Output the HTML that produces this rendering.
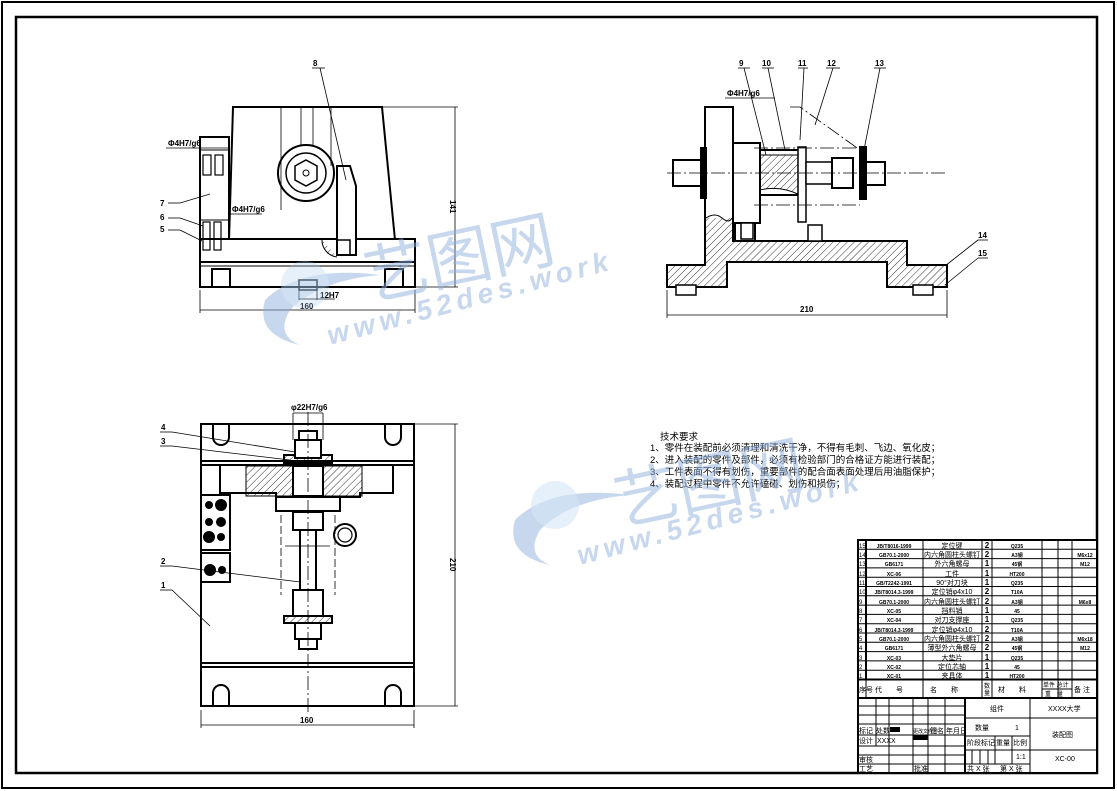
<!DOCTYPE html>
<html><head><meta charset="utf-8"><style>
html,body{margin:0;padding:0;background:#fff}
svg{display:block}
text{font-family:"Liberation Sans","Noto Sans CJK SC",sans-serif}
</style></head><body>
<svg width="1117" height="791" viewBox="0 0 1117 791" xmlns="http://www.w3.org/2000/svg">
<defs>
<pattern id="h" width="5" height="5" patternUnits="userSpaceOnUse" patternTransform="rotate(45)">
<line x1="0" y1="0" x2="0" y2="5" stroke="#000" stroke-width="0.8"/></pattern>
</defs>
<rect x="2" y="2" width="1112" height="786" fill="none" stroke="#000" stroke-width="2"/>
<rect x="16" y="17" width="1081" height="756" fill="none" stroke="#000" stroke-width="2.5"/>

<!-- FRONT VIEW -->
<g stroke="#000" fill="none" stroke-width="2">
<polygon points="233,107 382,107 395,240 229,240" fill="#fff"/>
<rect x="200" y="137" width="29" height="103" fill="#fff"/>
<rect x="200" y="239" width="215" height="48" fill="#fff"/>
<line x1="200" y1="262" x2="415" y2="262"/>
<line x1="200" y1="266" x2="415" y2="266" stroke-width="1"/>
<rect x="212" y="269" width="18" height="18"/><rect x="385" y="269" width="18" height="18"/>
<circle cx="306" cy="173" r="28"/>
<circle cx="306" cy="173" r="20" stroke-width="1.5"/>
<polygon points="306,160 317,166 317,180 306,186 295,180 295,166" stroke-width="1.5"/>
<circle cx="306" cy="173" r="3" stroke-width="1"/>
<polygon points="337,166 350,166 356,186 356,255 337,255" fill="#fff"/>
<rect x="337" y="240" width="13" height="15" stroke-width="1.5"/>
<path d="M322,240 A17,17 0 0 0 337,257" fill="url(#h)" stroke-width="1"/>
<path d="M200,150 L229,150 M200,220 L229,220" stroke-width="1"/>
<rect x="203" y="155" width="8" height="20" stroke-width="1.2"/><rect x="215" y="155" width="8" height="20" stroke-width="1.2"/>
<rect x="203" y="222" width="7" height="28" stroke-width="1.2"/><rect x="214" y="222" width="7" height="28" stroke-width="1.2"/>
<rect x="299" y="280" width="18" height="10" stroke-width="1.5"/>
</g>
<g stroke="#000" stroke-width="0.8" fill="none">
<line x1="281" y1="107" x2="281" y2="210"/><line x1="301" y1="107" x2="301" y2="145"/><line x1="313" y1="107" x2="313" y2="145"/><line x1="331" y1="107" x2="331" y2="166"/>
<line x1="382" y1="107" x2="458" y2="107"/><line x1="415" y1="287" x2="458" y2="287"/>
<line x1="455" y1="107" x2="455" y2="287"/>
<line x1="200" y1="290" x2="200" y2="313"/><line x1="415" y1="290" x2="415" y2="313"/>
<line x1="200" y1="310" x2="415" y2="310"/>
<line x1="312" y1="68" x2="325" y2="68"/><line x1="320" y1="68" x2="346" y2="180"/>
<line x1="168" y1="203" x2="180" y2="203"/><line x1="180" y1="203" x2="210" y2="194"/>
<line x1="168" y1="218" x2="180" y2="218"/><line x1="180" y1="218" x2="203" y2="226"/>
<line x1="168" y1="230" x2="180" y2="230"/><line x1="180" y1="230" x2="202" y2="241"/>
<line x1="166" y1="148" x2="228" y2="148"/><line x1="230" y1="214" x2="262" y2="214"/>
<line x1="299" y1="290" x2="299" y2="300"/><line x1="317" y1="290" x2="317" y2="300"/><line x1="299" y1="299" x2="335" y2="299"/>
</g>
<g font-size="8" font-weight="bold" fill="#000">
<text x="313" y="66">8</text><text x="160" y="206">7</text><text x="160" y="220">6</text><text x="160" y="232">5</text>
<text x="168" y="146">Φ4H7/g6</text><text x="232" y="212">Φ4H7/g6</text>
<text x="320" y="298">12H7</text><text x="300" y="309">160</text>
<text x="450" y="200" transform="rotate(90 450 200)">141</text>
</g>

<!-- SIDE VIEW -->
<g stroke="#000" stroke-width="2">
<polygon points="667,265 705,265 705,107 733,107 733,241 907,241 907,265 947,265 947,287 887,287 887,262 727,262 727,287 667,287" fill="url(#h)"/>
<rect x="706" y="108" width="26" height="110" fill="#fff" stroke="none"/>
<path d="M706,218 Q715,212 722,218 T732,218" fill="none" stroke-width="1"/>
<rect x="733" y="143" width="27" height="80" fill="#fff"/>
<rect x="735" y="223" width="20" height="18" fill="#fff"/>
<rect x="760" y="150" width="40" height="45" fill="#fff"/>
<path d="M760,155 L800,155 L800,195 Q780,185 760,190Z" fill="url(#h)" stroke-width="1"/>
<rect x="798" y="147" width="8" height="75" fill="#fff" stroke-width="1.5"/>
<rect x="806" y="162" width="26" height="22" fill="#fff" stroke-width="1.5"/>
<rect x="832" y="158" width="21" height="30" fill="#fff"/>
<rect x="860" y="147" width="6" height="52" fill="#000"/>
<rect x="866" y="162" width="19" height="23" fill="#fff"/>
<rect x="701" y="148" width="5" height="50" fill="#000"/>
<rect x="673" y="160" width="28" height="26" fill="#fff"/>
<rect x="808" y="225" width="14" height="16" fill="#fff" stroke-width="1.5"/>
<rect x="741" y="223" width="12" height="16" fill="#fff" stroke-width="1.5"/>
<rect x="676" y="285" width="20" height="10" fill="#fff" stroke-width="1.5"/>
<rect x="913" y="285" width="20" height="10" fill="#fff" stroke-width="1.5"/>
</g>
<g stroke="#000" stroke-width="0.8" fill="none">
<line x1="667" y1="173" x2="945" y2="173" stroke-dasharray="14,3,2,3"/>
<line x1="754" y1="148" x2="860" y2="148" stroke-dasharray="14,3,2,3"/>
<line x1="754" y1="205" x2="860" y2="205" stroke-dasharray="14,3,2,3"/>
<polyline points="790,107 800,107 860,150" stroke-dasharray="14,3,2,3"/>
<line x1="667" y1="290" x2="667" y2="318"/><line x1="947" y1="290" x2="947" y2="318"/>
<line x1="667" y1="315" x2="947" y2="315"/>
<line x1="738" y1="68" x2="750" y2="68"/><line x1="744" y1="68" x2="766" y2="155"/>
<line x1="762" y1="68" x2="774" y2="68"/><line x1="768" y1="68" x2="785" y2="150"/>
<line x1="798" y1="68" x2="808" y2="68"/><line x1="804" y1="68" x2="800" y2="140"/>
<line x1="826" y1="68" x2="840" y2="68"/><line x1="833" y1="68" x2="815" y2="125"/>
<line x1="874" y1="68" x2="886" y2="68"/><line x1="880" y1="68" x2="864" y2="150"/>
<line x1="725" y1="98" x2="775" y2="98"/>
<line x1="978" y1="240" x2="988" y2="240"/><line x1="978" y1="240" x2="945" y2="266"/>
<line x1="978" y1="258" x2="988" y2="258"/><line x1="978" y1="258" x2="945" y2="285"/>
</g>
<g font-size="8" font-weight="bold" fill="#000">
<text x="739" y="66">9</text><text x="762" y="66">10</text><text x="798" y="66">11</text><text x="827" y="66">12</text><text x="875" y="66">13</text>
<text x="727" y="96">Φ4H7/g6</text><text x="978" y="238">14</text><text x="978" y="256">15</text>
<text x="800" y="312">210</text>
</g>

<!-- TOP VIEW -->
<g stroke="#000" stroke-width="2" fill="none">
<rect x="201" y="424" width="213" height="282" fill="#fff"/>
<line x1="201" y1="461" x2="414" y2="461"/><line x1="201" y1="465" x2="414" y2="465"/>
<line x1="201" y1="663" x2="414" y2="663"/><line x1="201" y1="667" x2="414" y2="667"/>
<path d="M213,424 L213,437 A8,8 0 0 0 229,437 L229,424"/>
<path d="M385,424 L385,437 A8,8 0 0 0 401,437 L401,424"/>
<path d="M213,706 L213,693 A8,8 0 0 1 229,693 L229,706"/>
<path d="M385,706 L385,693 A8,8 0 0 1 401,693 L401,706"/>
<path d="M220,465 L220,493 L276,493 L276,497 L360,497 L360,493 L393,493 L393,465"/>
<rect x="246" y="466" width="116" height="30" fill="url(#h)" stroke-width="1"/>
<rect x="276" y="497" width="64" height="14" fill="#fff"/>
<rect x="293" y="466" width="30" height="30" fill="#fff"/>
<rect x="284" y="455" width="48" height="8" fill="url(#h)"/>
<rect x="295" y="440" width="26" height="18" fill="#fff"/>
<rect x="299" y="431" width="18" height="9" fill="#fff"/>
<rect x="293" y="512" width="30" height="18" fill="#fff"/>
<rect x="300" y="530" width="16" height="60" fill="#fff"/>
<rect x="293" y="590" width="30" height="26" fill="#fff"/>
<rect x="284" y="616" width="48" height="7" fill="url(#h)"/>
<rect x="295" y="623" width="26" height="16" fill="#fff"/>
<rect x="299" y="639" width="18" height="10" fill="#fff"/>
<rect x="201" y="495" width="29" height="55" fill="#fff"/>
<rect x="201" y="553" width="29" height="29" fill="#fff"/>
<circle cx="345" cy="535" r="11"/><circle cx="345" cy="535" r="7" stroke-width="1.2"/>
</g>
<g fill="#000">
<circle cx="209" cy="505" r="4"/><circle cx="221" cy="505" r="6"/>
<circle cx="209" cy="522" r="4"/><circle cx="221" cy="522" r="5"/><circle cx="209" cy="537" r="6"/><circle cx="221" cy="537" r="4"/>
<circle cx="210" cy="570" r="6"/><circle cx="222" cy="570" r="4"/>
</g>
<g stroke="#000" stroke-width="0.8" fill="none">
<line x1="308" y1="412" x2="308" y2="712" stroke-dasharray="14,3,2,3"/>
<line x1="281" y1="515" x2="281" y2="595" stroke-dasharray="8,3"/><line x1="335" y1="515" x2="335" y2="595" stroke-dasharray="8,3"/>
<line x1="285" y1="546" x2="330" y2="546"/>
<line x1="293" y1="413" x2="323" y2="413"/><line x1="293" y1="413" x2="293" y2="440"/><line x1="323" y1="413" x2="323" y2="440"/>
<line x1="414" y1="424" x2="458" y2="424"/><line x1="414" y1="706" x2="458" y2="706"/>
<line x1="455" y1="424" x2="455" y2="706"/>
<line x1="201" y1="710" x2="201" y2="728"/><line x1="414" y1="710" x2="414" y2="728"/>
<line x1="201" y1="725" x2="414" y2="725"/>
<line x1="160" y1="432" x2="172" y2="432"/><line x1="172" y1="432" x2="295" y2="452"/>
<line x1="160" y1="446" x2="172" y2="446"/><line x1="172" y1="446" x2="290" y2="460"/>
<line x1="160" y1="566" x2="172" y2="566"/><line x1="172" y1="566" x2="300" y2="582"/>
<line x1="160" y1="590" x2="172" y2="590"/><line x1="172" y1="590" x2="210" y2="626"/>
</g>
<g font-size="8" font-weight="bold" fill="#000">
<text x="291" y="410">φ22H7/g6</text>
<text x="161" y="430">4</text><text x="161" y="444">3</text><text x="161" y="564">2</text><text x="161" y="588">1</text>
<text x="300" y="723">160</text>
<text x="450" y="558" transform="rotate(90 450 558)">210</text>
</g>

<!-- TECH REQUIREMENTS -->
<g font-size="9.5" fill="#000">
<text x="660" y="440">技术要求</text>
<text x="650" y="451">1、零件在装配前必须清理和清洗干净，不得有毛刺、飞边、氧化皮；</text>
<text x="650" y="463">2、进入装配的零件及部件，必须有检验部门的合格证方能进行装配；</text>
<text x="650" y="475">3、工件表面不得有划伤，重要部件的配合面表面处理后用油脂保护；</text>
<text x="650" y="487">4、装配过程中零件不允许磕碰、划伤和损伤；</text>
</g>

<!-- TITLE BLOCK -->
<g stroke="#000" fill="none">
<rect x="858" y="540" width="239" height="233" fill="#fff" stroke-width="2"/>
<g stroke-width="1">
<line x1="858" y1="549.3" x2="1097" y2="549.3"/><line x1="858" y1="558.6" x2="1097" y2="558.6"/><line x1="858" y1="567.9" x2="1097" y2="567.9"/>
<line x1="858" y1="577.2" x2="1097" y2="577.2"/><line x1="858" y1="586.5" x2="1097" y2="586.5"/><line x1="858" y1="595.8" x2="1097" y2="595.8"/>
<line x1="858" y1="605.1" x2="1097" y2="605.1"/><line x1="858" y1="614.4" x2="1097" y2="614.4"/><line x1="858" y1="623.7" x2="1097" y2="623.7"/>
<line x1="858" y1="633" x2="1097" y2="633"/><line x1="858" y1="642.3" x2="1097" y2="642.3"/><line x1="858" y1="651.6" x2="1097" y2="651.6"/>
<line x1="858" y1="660.9" x2="1097" y2="660.9"/><line x1="858" y1="670.2" x2="1097" y2="670.2"/>
<line x1="866" y1="540" x2="866" y2="698"/><line x1="923" y1="540" x2="923" y2="698"/><line x1="982" y1="540" x2="982" y2="698"/>
<line x1="992" y1="540" x2="992" y2="698"/><line x1="1042" y1="540" x2="1042" y2="698"/><line x1="1058" y1="540" x2="1058" y2="698"/><line x1="1072" y1="540" x2="1072" y2="698"/>
<line x1="1042" y1="689" x2="1072" y2="689"/>
<line x1="858" y1="706" x2="965" y2="706"/><line x1="858" y1="715" x2="965" y2="715"/><line x1="858" y1="724" x2="965" y2="724"/><line x1="858" y1="735" x2="965" y2="735"/>
<line x1="858" y1="746" x2="965" y2="746"/><line x1="858" y1="755" x2="965" y2="755"/><line x1="858" y1="764" x2="965" y2="764"/>
<line x1="876" y1="698" x2="876" y2="746"/><line x1="889" y1="698" x2="889" y2="773"/><line x1="913" y1="698" x2="913" y2="773"/><line x1="928" y1="698" x2="928" y2="773"/><line x1="945" y1="698" x2="945" y2="773"/>
<line x1="1030" y1="698" x2="1030" y2="773"/><line x1="965" y1="718" x2="1097" y2="718"/>
<line x1="965" y1="736" x2="1030" y2="736"/><line x1="965" y1="750" x2="1097" y2="750"/><line x1="965" y1="764" x2="1030" y2="764"/>
<line x1="1012" y1="736" x2="1012" y2="764"/><line x1="995" y1="736" x2="995" y2="764"/><line x1="972" y1="750" x2="972" y2="764"/><line x1="980" y1="750" x2="980" y2="764"/><line x1="988" y1="750" x2="988" y2="764"/>
</g>
<line x1="858" y1="679.5" x2="1097" y2="679.5" stroke-width="2"/>
<line x1="858" y1="698" x2="1097" y2="698" stroke-width="2"/>
<line x1="965" y1="698" x2="965" y2="773" stroke-width="2"/>
<line x1="866" y1="540" x2="866" y2="680" stroke-width="2"/>
</g>
<rect x="890" y="727" width="10" height="5" fill="#000"/><rect x="913" y="735" width="15" height="5" fill="#000"/>
<g font-size="6" fill="#000">
<text x="859" y="548">15</text><text x="859" y="557">14</text><text x="859" y="566">13</text><text x="859" y="576">12</text><text x="859" y="585">11</text><text x="859" y="594">10</text><text x="859" y="604">9</text><text x="859" y="613">8</text><text x="859" y="622">7</text><text x="859" y="632">6</text><text x="859" y="641">5</text><text x="859" y="650">4</text><text x="859" y="660">3</text><text x="859" y="669">2</text><text x="859" y="678">1</text>
</g>
<g font-size="5" fill="#000" text-anchor="middle" font-weight="bold">
<text x="894" y="548">JB/T8016-1999</text><text x="894" y="557">GB70.1-2000</text><text x="894" y="566">GB6171</text><text x="894" y="576">XC-06</text><text x="894" y="585">GB/T2242-1991</text><text x="894" y="594">JB/T8014.3-1999</text><text x="894" y="604">GB70.1-2000</text><text x="894" y="613">XC-05</text><text x="894" y="622">XC-04</text><text x="894" y="632">JB/T8014.3-1999</text><text x="894" y="641">GB70.1-2000</text><text x="894" y="650">GB6171</text><text x="894" y="660">XC-03</text><text x="894" y="669">XC-02</text><text x="894" y="678">XC-01</text>
<text x="1017" y="548">Q235</text><text x="1017" y="557">A3钢</text><text x="1017" y="566">45钢</text><text x="1017" y="576">HT200</text><text x="1017" y="585">Q235</text><text x="1017" y="594">T10A</text><text x="1017" y="604">A3钢</text><text x="1017" y="613">45</text><text x="1017" y="622">Q235</text><text x="1017" y="632">T10A</text><text x="1017" y="641">A3钢</text><text x="1017" y="650">45钢</text><text x="1017" y="660">Q235</text><text x="1017" y="669">45</text><text x="1017" y="678">HT200</text>
<text x="1085" y="557">M6x12</text><text x="1085" y="566">M12</text><text x="1085" y="604">M6x8</text><text x="1085" y="641">M6x18</text><text x="1085" y="650">M12</text>
</g>
<g font-size="7" fill="#000" text-anchor="middle">
<text x="952" y="548">定位键</text><text x="952" y="557">内六角圆柱头螺钉</text><text x="952" y="566">外六角螺母</text><text x="952" y="576">工件</text><text x="952" y="585">90°对刀块</text><text x="952" y="594">定位销φ4x10</text><text x="952" y="604">内六角圆柱头螺钉</text><text x="952" y="613">挡料销</text><text x="952" y="622">对刀支撑座</text><text x="952" y="632">定位销φ4x10</text><text x="952" y="641">内六角圆柱头螺钉</text><text x="952" y="650">薄型外六角螺母</text><text x="952" y="660">大垫片</text><text x="952" y="669">定位芯轴</text><text x="952" y="678">夹具体</text>
</g>
<g font-size="8" fill="#000" text-anchor="middle" font-weight="bold">
<text x="987" y="548">2</text><text x="987" y="557">2</text><text x="987" y="566">1</text><text x="987" y="576">1</text><text x="987" y="585">1</text><text x="987" y="594">2</text><text x="987" y="604">2</text><text x="987" y="613">1</text><text x="987" y="622">1</text><text x="987" y="632">2</text><text x="987" y="641">2</text><text x="987" y="650">2</text><text x="987" y="660">1</text><text x="987" y="669">1</text><text x="987" y="678">1</text>
</g>
<g font-size="7" fill="#000">
<text x="859" y="692">序号</text><text x="875" y="692">代　　号</text><text x="930" y="692">名　　称</text><text x="984" y="688" font-size="6">数</text><text x="984" y="695" font-size="6">量</text>
<text x="998" y="692">材　　料</text><text x="1043" y="687" font-size="6">单件 总计</text><text x="1045" y="696" font-size="6">重　量</text><text x="1074" y="692">备 注</text>
<text x="990" y="711">组件</text><text x="1048" y="711">XXXX大学</text>
<text x="975" y="730">数量</text><text x="1015" y="730">1</text><text x="1052" y="737">装配图</text>
<text x="967" y="745">阶段标记</text><text x="996" y="745">重量</text><text x="1013" y="745">比例</text><text x="1016" y="759">1:1</text><text x="1055" y="761">XC-00</text>
<text x="967" y="771">共 X 张</text><text x="1000" y="771">第 X 张</text>
<text x="859" y="733">标记</text><text x="876" y="733">处数</text><text x="913" y="733" font-size="5">更改文件号</text><text x="930" y="733">签名</text><text x="946" y="733">年月日</text>
<text x="859" y="743">设计</text><text x="877" y="743">XXXX</text>
<text x="859" y="762">审核</text><text x="859" y="771">工艺</text><text x="914" y="771">批准</text>
</g>

<!-- WATERMARKS -->
<g opacity="0.5" fill="#8fb0dc">
<path d="M265,300 Q300,265 380,275 Q320,280 290,310 Q275,335 300,345 Q255,335 265,300Z"/>
<circle cx="305" cy="285" r="24" fill="#a8cdee" opacity="0.6"/>
<text x="370" y="300" font-size="64" transform="rotate(-12 370 300)" font-family="'Noto Sans CJK SC',sans-serif">艺图网</text>
<text x="330" y="345" font-size="28" font-weight="bold" font-style="italic" transform="rotate(-15 330 345)" letter-spacing="5">www.52des.work</text>
<path d="M515,520 Q550,485 630,495 Q570,500 540,530 Q525,555 550,565 Q505,555 515,520Z"/>
<circle cx="555" cy="505" r="24" fill="#a8cdee" opacity="0.6"/>
<text x="620" y="525" font-size="64" transform="rotate(-12 620 525)" font-family="'Noto Sans CJK SC',sans-serif">艺图网</text>
<text x="580" y="565" font-size="28" font-weight="bold" font-style="italic" transform="rotate(-15 580 565)" letter-spacing="5">www.52des.work</text>
</g>
</svg>
</body></html>
